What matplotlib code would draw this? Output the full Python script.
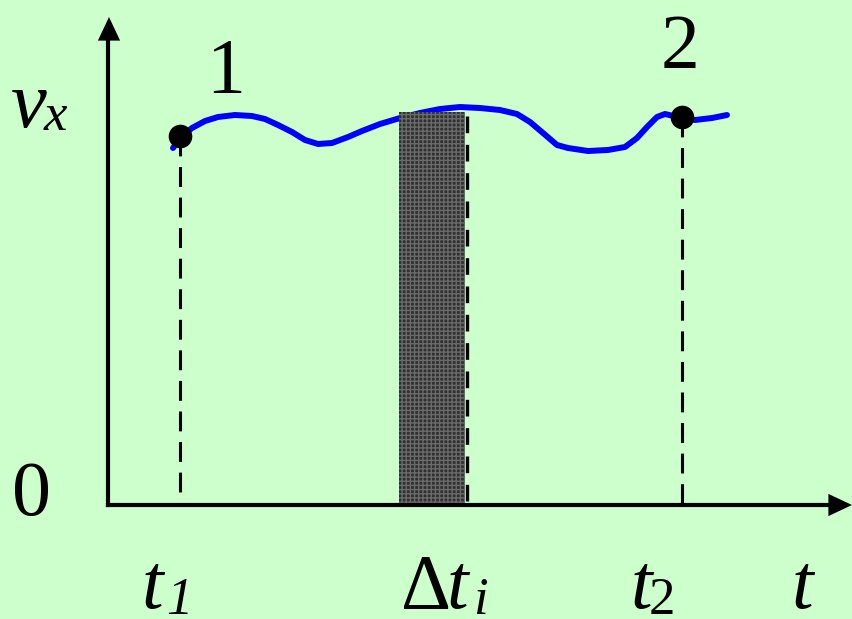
import matplotlib
matplotlib.use("Agg")
import matplotlib.pyplot as plt
from matplotlib.patches import Rectangle

plt.rcParams['font.family'] = ['Liberation Serif', 'DejaVu Serif']

# ---- data (t, v in arbitrary units) ----
curve_t = [66, 74, 85, 98, 111, 128, 145, 158, 171, 185, 198, 211, 225, 241, 255,
           273, 293, 313, 333, 353, 373, 393, 410, 423, 436, 450, 461, 481, 501,
           518, 530, 540, 550, 558, 575, 588, 605, 620]
curve_v = [357, 368, 377, 384, 388, 390, 389, 386, 380, 373, 365, 361, 362, 368, 374,
           381, 387, 392, 396, 398, 397, 395, 391, 383, 372, 360, 357, 354, 355,
           358, 367, 378, 388, 391, 387, 385, 387, 390]
point_t = [73, 575]
point_v = [369, 388]
point_labels = ["1", "2"]
strip_t0 = 292
strip_t1 = 358
strip_top = 393
tick_main = ["t", "\u0394", "t", "t"]
tick_sub = ["1", "", "2", ""]
origin_label = "0"
y_main, y_sub = "v", "x"

BG = "#CCFFCC"
fig = plt.figure(figsize=(8.52, 6.19), dpi=100, facecolor=BG)
ax = fig.add_axes([0, 0, 1, 1])
ax.set_facecolor(BG)
ax.set_xlim(-107, 745)
ax.set_ylim(-114, 505)
ax.axis('off')

# dashed verticals
dash = (6.5, 3.5)
for t, v in zip(point_t, point_v):
    ax.plot([t, t], [v, 0], color='black', lw=2.2, dashes=dash, zorder=2)

# curve
ax.plot(curve_t, curve_v, color='#0000FF', lw=4.3, solid_joinstyle='round',
        solid_capstyle='round', zorder=3)

# shaded strip
ax.add_patch(Rectangle((strip_t0, 0), strip_t1 - strip_t0, strip_top,
                       facecolor='#303030', edgecolor='#6a6a6a', hatch='++++',
                       lw=0, zorder=4))
ax.plot([strip_t1 + 1.5, strip_t1 + 1.5], [strip_top - 4, 0], color='black', lw=2.4,
        dashes=(5, 3.5), zorder=5)

# points
ax.plot(point_t, point_v, 'o', color='black', ms=16, zorder=6)

# axes with arrows
ax.plot([1, 1], [470, 0], color='black', lw=3, solid_capstyle='projecting', zorder=7)
ax.plot([1, 730], [0, 0], color='black', lw=3, solid_capstyle='projecting', zorder=7)
ax.annotate('', xy=(2, 488), xytext=(2, 460),
            arrowprops=dict(arrowstyle='-|>,head_length=1.7,head_width=0.8',
                            mutation_scale=10, color='black', lw=0,
                            shrinkA=0, shrinkB=0), zorder=8)
ax.annotate('', xy=(745, 0), xytext=(715, 0),
            arrowprops=dict(arrowstyle='-|>,head_length=1.7,head_width=0.8',
                            mutation_scale=10, color='black', lw=0,
                            shrinkA=0, shrinkB=0), zorder=8)

FS = 56
SFS = 38
BL = -103   # baseline of the t-axis labels
# point labels
ax.text(119, 413, point_labels[0], fontsize=FS, ha='center', va='baseline')
ax.text(573, 437, point_labels[1], fontsize=FS, ha='center', va='baseline')
# origin
ax.text(-76, -10, origin_label, fontsize=FS, ha='center', va='baseline')
# v_x
ax.text(-96, 378, y_main, fontsize=FS + 2, style='italic', ha='left', va='baseline')
ax.text(-63, 375, y_sub, fontsize=SFS, style='italic', ha='left', va='baseline')

# t-axis labels
ax.text(35, BL, tick_main[0], fontsize=FS, style='italic', ha='left', va='baseline')
ax.text(59, BL - 6, tick_sub[0], fontsize=SFS, style='italic', ha='left', va='baseline')

ax.text(294, BL, tick_main[1], fontsize=FS, ha='left', va='baseline')
ax.text(340, BL, "t", fontsize=FS, style='italic', ha='left', va='baseline')
ax.text(366, BL - 6, "i", fontsize=SFS, style='italic', ha='left', va='baseline')

ax.text(524, BL, tick_main[2], fontsize=FS, style='italic', ha='left', va='baseline')
ax.text(542, BL - 6, tick_sub[2], fontsize=SFS, ha='left', va='baseline')

ax.text(685, BL, tick_main[3], fontsize=FS, style='italic', ha='left', va='baseline')

fig.savefig('out.png', dpi=100, facecolor=BG)
